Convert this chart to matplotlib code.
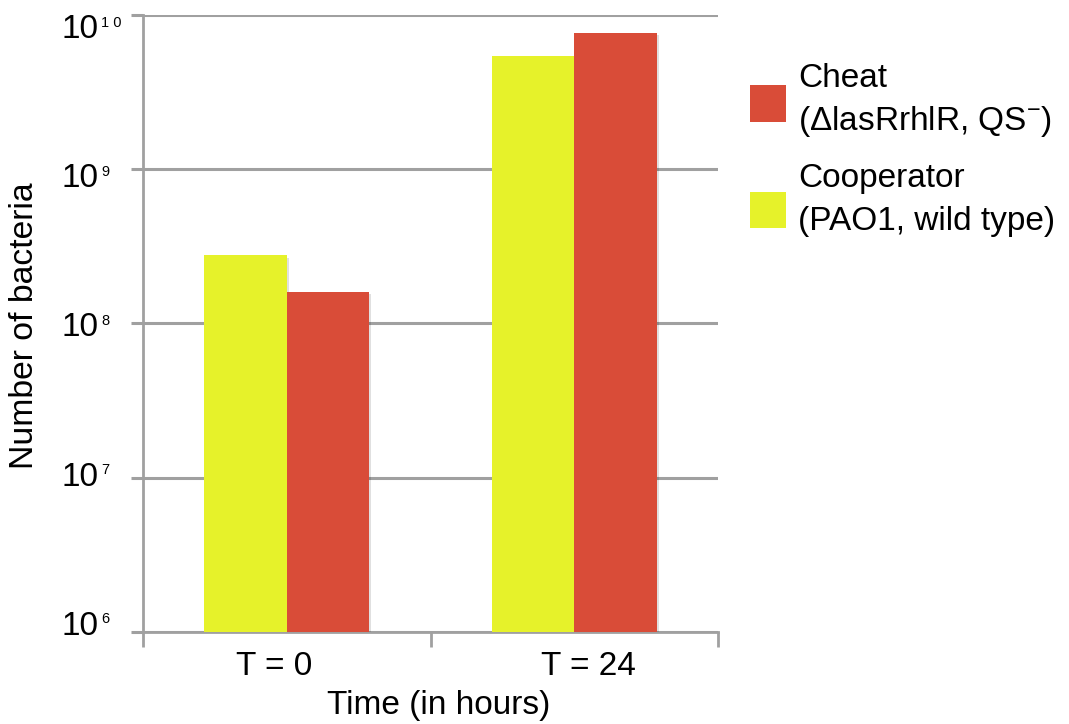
import matplotlib
matplotlib.use("Agg")
import matplotlib.pyplot as plt
import matplotlib.patheffects as pe
import matplotlib.transforms as mtransforms
from matplotlib.patches import Rectangle
import numpy as np

plt.rcParams['font.family'] = ['Liberation Sans', 'DejaVu Sans']
plt.rcParams['mathtext.fontset'] = 'custom'
plt.rcParams['mathtext.rm'] = 'Liberation Sans'

# Data
time_labels = ["T = 0", "T = 24"]
cooperator = [2.75e8, 5.4e9]
cheat = [1.6e8, 7.6e9]
series_names = ["Cheat\n(\u0394lasRrhlR, $\\mathregular{QS^{-}}$)",
                "Cooperator\n(PAO1, wild type)"]
ytick_exponents = [6, 7, 8, 9, 10]
ytick_sup_text = ["6", "7", "8", "9", "1 0"]

yellow = "#E6F22A"
red = "#D94C38"
gray = "#A0A0A0"

W, H = 1069, 724
fig = plt.figure(figsize=(W / 100, H / 100), dpi=100)
ax = fig.add_axes([143 / W, 1 - 632 / H, (718 - 143) / W, (632 - 14.5) / H])


def px_shift(dx, dy):
    """Offset in screen pixels (x right, y down)."""
    return mtransforms.ScaledTranslation(dx / 100, -dy / 100, fig.dpi_scale_trans)


x = np.arange(len(time_labels))
w = 0.287
shadow = [pe.SimplePatchShadow(offset=(1.5, -1.5), shadow_rgbFace='k', alpha=0.12),
          pe.Normal()]
b_coop = ax.bar(x - w / 2, cooperator, width=w, color=yellow, zorder=3,
                path_effects=shadow)
b_cheat = ax.bar(x + w / 2, cheat, width=w, color=red, zorder=3,
                 path_effects=shadow)

ax.set_yscale('log')
ax.set_ylim(1e6, 1e10)
ax.set_xlim(-0.5, 1.5)
ax.set_yticks([10.0 ** e for e in ytick_exponents])
ax.set_yticklabels([])
ax.yaxis.set_minor_locator(matplotlib.ticker.NullLocator())

# category boundaries carry the tick marks
ax.set_xticks([-0.5, 0.5, 1.5])
ax.set_xticklabels([])

ax.grid(axis='y', color=gray, linewidth=2.2, zorder=1)
ax.set_axisbelow(True)
for s in ['top', 'right']:
    ax.spines[s].set_visible(False)
for s in ['left', 'bottom']:
    ax.spines[s].set_color(gray)
    ax.spines[s].set_linewidth(2.0)

ax.tick_params(axis='y', which='major', length=8.6, width=2.2, color=gray)
ax.tick_params(axis='x', which='major', length=10.8, width=2.0, color=gray,
               direction='out')

# category labels under each group
xblend = mtransforms.blended_transform_factory(ax.transData, fig.transFigure)
for xi, lbl, dx in zip(x, time_labels, [-13, 14]):
    ax.text(xi, 1 - 675 / H, lbl, transform=xblend + px_shift(dx, 0),
            fontsize=24, ha='center', va='baseline', clip_on=False)

# y tick labels: "10" with a small raised exponent
yblend = mtransforms.blended_transform_factory(fig.transFigure, ax.transData)
for e, sup in zip(ytick_exponents, ytick_sup_text):
    dy = 5.2 * (e - 7) - 0.5
    ax.text(61 / W, 10.0 ** e, "10", transform=yblend + px_shift(0, dy),
            fontsize=24, ha='left', va='center', clip_on=False)
    ax.text(101 / W, 10.0 ** e, sup, transform=yblend + px_shift(0, dy - 7),
            fontsize=10.5, ha='left', va='center', clip_on=False)

fig.text(25 / W, 1 - 326 / H, "Number of bacteria", rotation=90, fontsize=24.3,
         ha='center', va='center')
fig.text(439 / W, 1 - 714 / H, "Time (in hours)", fontsize=24,
         ha='center', va='baseline')

# legend: colour swatch beside a two-line label
legend_items = [(red, series_names[0]), (yellow, series_names[1])]
for i, (col, name) in enumerate(legend_items):
    top = 85 + i * 106.5
    fig.patches.append(Rectangle((750 / W, 1 - (top + 36.5) / H), 36 / W, 36.5 / H,
                                 transform=fig.transFigure, facecolor=col,
                                 edgecolor='none'))
    for j, line in enumerate(name.split("\n")):
        base = 86.7 + i * 100 + j * 43.3
        fig.text(798 / W, 1 - base / H, line, fontsize=24, ha='left',
                 va='baseline')

fig.savefig("out.png", dpi=100)
